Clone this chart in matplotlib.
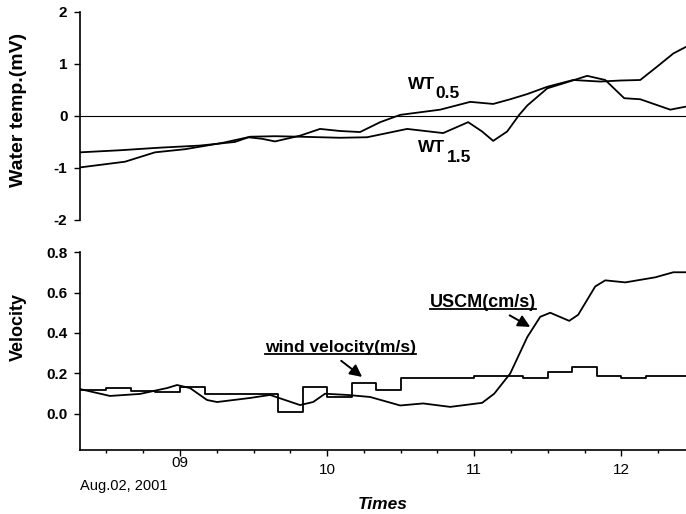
import matplotlib
matplotlib.use("Agg")
import matplotlib.pyplot as plt
from matplotlib.ticker import MultipleLocator
from matplotlib.lines import Line2D
from matplotlib.text import Text

plt.rcParams['font.family'] = ['Liberation Sans', 'DejaVu Sans']
plt.rcParams['axes.unicode_minus'] = False

# --- water temperature (days since Aug, mV) ---
wt05_t = [8.320, 8.626, 8.830, 9.034, 9.286, 9.463, 9.558, 9.646, 9.816, 9.952,
          10.088, 10.224, 10.361, 10.497, 10.633, 10.769, 10.973, 11.129, 11.245,
          11.361, 11.497, 11.673, 11.857, 11.993, 12.129, 12.245, 12.354, 12.442]
wt05_v = [-0.99, -0.88, -0.70, -0.64, -0.52, -0.41, -0.44, -0.49, -0.38, -0.25,
          -0.29, -0.31, -0.12, 0.02, 0.07, 0.12, 0.27, 0.23, 0.32,
          0.42, 0.56, 0.69, 0.66, 0.68, 0.69, 0.95, 1.20, 1.33]

wt15_t = [8.320, 8.592, 8.864, 9.136, 9.374, 9.476, 9.646, 9.816, 10.088, 10.272,
          10.544, 10.789, 10.959, 11.054, 11.129, 11.224, 11.306, 11.361, 11.497,
          11.680, 11.768, 11.891, 12.020, 12.129, 12.333, 12.442]
wt15_v = [-0.70, -0.66, -0.61, -0.57, -0.50, -0.40, -0.39, -0.40, -0.42, -0.41,
          -0.25, -0.33, -0.12, -0.30, -0.48, -0.30, 0.02, 0.20, 0.53,
          0.69, 0.77, 0.69, 0.34, 0.32, 0.12, 0.18]

# --- velocity ---
uscm_t = [8.320, 8.524, 8.728, 8.912, 8.980, 9.068, 9.184, 9.252, 9.476, 9.612,
          9.816, 9.905, 9.986, 10.136, 10.292, 10.497, 10.653, 10.837, 11.054,
          11.136, 11.245, 11.361, 11.449, 11.517, 11.646, 11.707, 11.823, 11.891,
          12.027, 12.231, 12.354, 12.442]
uscm_v = [0.123, 0.089, 0.099, 0.128, 0.143, 0.128, 0.069, 0.059, 0.079, 0.094,
          0.044, 0.059, 0.100, 0.094, 0.084, 0.042, 0.052, 0.035, 0.055,
          0.100, 0.200, 0.380, 0.480, 0.500, 0.460, 0.490, 0.630, 0.660,
          0.650, 0.675, 0.700, 0.700]

wind_t = [8.1667, 8.5, 8.6667, 8.8333, 9.0, 9.1667, 9.3333, 9.5, 9.6667, 9.8333,
          10.0, 10.1667, 10.3333, 10.5, 10.6667, 10.8333, 11.0, 11.1667, 11.3333,
          11.5, 11.6667, 11.8333, 12.0, 12.1667, 12.3333, 12.5]
wind_v = [0.120, 0.130, 0.115, 0.108, 0.133, 0.100, 0.100, 0.100, 0.010, 0.133,
          0.084, 0.153, 0.118, 0.178, 0.178, 0.178, 0.186, 0.186, 0.178,
          0.207, 0.232, 0.190, 0.180, 0.190, 0.190, 0.190]

day_ticks = [9, 10, 11, 12]
day_labels = ["", "10", "11", "12"]

fig = plt.figure(figsize=(6.86, 5.14), dpi=100)
ax1 = fig.add_axes([0.1166, 0.572, 0.8834, 0.405])
ax2 = fig.add_axes([0.1166, 0.1245, 0.8834, 0.3852])

xmin, xmax = 8.32, 12.44
lw = 1.3

# top panel
ax1.plot(wt05_t, wt05_v, color='black', lw=lw)
ax1.plot(wt15_t, wt15_v, color='black', lw=lw)
ax1.axhline(0, color='black', lw=0.8)
ax1.set_xlim(xmin, xmax)
ax1.set_ylim(-2, 2)
ax1.set_yticks([-2, -1, 0, 1, 2])
for s in ['top', 'right', 'bottom']:
    ax1.spines[s].set_visible(False)
ax1.spines['left'].set_linewidth(1.2)
ax1.set_xticks([])
ax1.tick_params(axis='y', direction='out', length=4, width=1, labelsize=11, pad=5)
for lab in ax1.get_yticklabels():
    lab.set_fontweight('bold')
ax1.set_ylabel("Water temp.(mV)", fontsize=14, fontweight='bold')
ax1.yaxis.set_label_coords(-0.087, 0.53)

tf = dict(fontsize=12.5, fontweight='bold')
ax1.text(10.551, 0.60, "WT", ha='left', va='center', **tf)
ax1.text(10.735, 0.44, "0.5", ha='left', va='center', **tf)
ax1.text(10.619, -0.615, "WT", ha='left', va='center', **tf)
ax1.text(10.816, -0.79, "1.5", ha='left', va='center', **tf)

# bottom panel
ax2.plot(uscm_t, uscm_v, color='black', lw=lw)
ax2.step(wind_t, wind_v, where='post', color='black', lw=lw)
ax2.set_xlim(xmin, xmax)
ax2.set_ylim(-0.178, 0.8)
ax2.set_yticks([0.0, 0.2, 0.4, 0.6, 0.8])
ax2.set_yticklabels(["0.0", "0.2", "0.4", "0.6", "0.8"])
for s in ['top', 'right']:
    ax2.spines[s].set_visible(False)
ax2.spines['left'].set_linewidth(1.2)
ax2.spines['bottom'].set_linewidth(1.2)
ax2.set_xticks(day_ticks)
ax2.set_xticklabels(day_labels)
ax2.xaxis.set_minor_locator(MultipleLocator(0.25))
ax2.tick_params(axis='both', which='major', direction='out', length=4, width=1,
                labelsize=11, pad=5)
ax2.tick_params(axis='x', which='minor', direction='out', length=2.5, width=1)
for lab in ax2.get_yticklabels():
    lab.set_fontweight('bold')
ax2.set_ylabel("Velocity", fontsize=13, fontweight='bold')
ax2.yaxis.set_label_coords(-0.087, 0.62)
ax2.set_xlabel("Times", fontsize=12.5, fontweight='bold', style='italic', labelpad=15)

ax2.text(9.0, -0.24, "09", ha='center', va='center', fontsize=11)
ax2.text(8.32, -0.355, "Aug.02, 2001", ha='left', va='center', fontsize=10.5)

ann_wind = ax2.annotate("wind velocity(m/s)", xy=(10.238, 0.183), xytext=(10.09, 0.326),
                        ha='center', va='center', fontsize=12.5, fontweight='bold',
                        arrowprops=dict(arrowstyle='-|>', color='black', lw=1.4,
                                        mutation_scale=18, shrinkA=3, shrinkB=0,
                                        relpos=(0.46, 0.0)))
ann_uscm = ax2.annotate("USCM(cm/s)", xy=(11.381, 0.43), xytext=(11.06, 0.553),
                        ha='center', va='center', fontsize=13, fontweight='bold',
                        arrowprops=dict(arrowstyle='-|>', color='black', lw=1.4,
                                        mutation_scale=18, shrinkA=3, shrinkB=0,
                                        relpos=(0.67, 0.0)))

# underline the two annotation labels (text box only, not the arrow)
fig.canvas.draw()
renderer = fig.canvas.get_renderer()
inv = fig.transFigure.inverted()
for t in [ann_wind, ann_uscm]:
    bb = Text.get_window_extent(t, renderer).transformed(inv)
    fig.add_artist(Line2D([bb.x0, bb.x1], [bb.y0 + 0.002, bb.y0 + 0.002],
                          color='black', lw=1.3, transform=fig.transFigure))

fig.savefig("out.png", dpi=100)
